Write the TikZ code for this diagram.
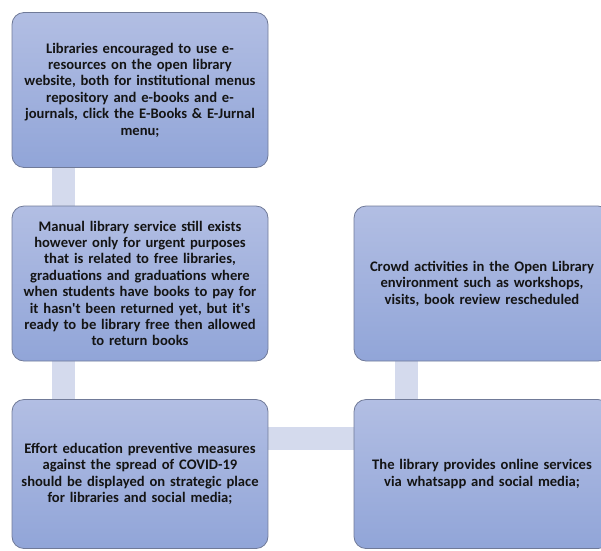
\documentclass[tikz,border=0pt]{standalone}
\usepackage{fontspec}
\setmainfont{Carlito}
\usetikzlibrary{backgrounds}
\definecolor{boxtop}{RGB}{178,190,227}
\definecolor{boxbot}{RGB}{145,165,216}
\definecolor{boxline}{RGB}{112,122,152}
\definecolor{linkfill}{RGB}{212,218,237}

\begin{document}
\begin{tikzpicture}[x=1pt, y=-1pt,
	    card/.style={rectangle, rounded corners=12pt, draw=boxline, line width=0.8pt,
	      top color=boxtop, bottom color=boxbot, minimum width=256pt, minimum height=155pt,
	      text width=256pt, align=center, inner sep=0pt,
	      font=\bfseries\fontsize{14.6}{16.4}\selectfont, text=black!92},
	    low/.style={minimum height=149pt},
	    link/.style={draw=linkfill, line width=23pt}
	  ]
	  \useasboundingbox (0,0) rectangle (601,550);
	  \clip (0,0) rectangle (601,550);
	 
	  % left column
	  \node[card] (libs) at (140,90) {Libraries encouraged to use e-\\resources on the open library\\website, both for institutional menus\\repository and e-books and e-\\journals, click the E-Books \& E-Jurnal\\menu;};
	  \node[card] (manual) at (140,283.5) {Manual library service still exists\\however only for urgent purposes\\that is related to free libraries,\\graduations and graduations where\\when students have books to pay for\\it hasn\textquotesingle t been returned yet, but it\textquotesingle s\\ready to be library free then allowed\\to return books};
	  \node[card, low] (effort) at (140,474) {Effort education preventive measures\\against the spread of COVID-19\\should be displayed on strategic place\\for libraries and social media;};
	 
	  % right column
	  \node[card, low] (online) at (482,474) {The library provides online services\\via whatsapp and social media;};
	  \node[card] (crowd) at (482,283.5) {Crowd activities in the Open Library\\environment such as workshops,\\visits, book review rescheduled};
	 
	  % connectors
	  \begin{scope}[on background layer]
	    \draw[link] ([xshift=51.5pt]libs.south west) -- ([xshift=51.5pt]manual.north west);
	    \draw[link] ([xshift=51.5pt]manual.south west) -- ([xshift=51.5pt]effort.north west);
	    \draw[link] ([yshift=36pt]effort.east) -- ([yshift=36pt]online.west);
	    \draw[link] ([xshift=52.5pt]crowd.south west) -- ([xshift=52.5pt]online.north west);
	  \end{scope}
	\end{tikzpicture}
\end{document}
